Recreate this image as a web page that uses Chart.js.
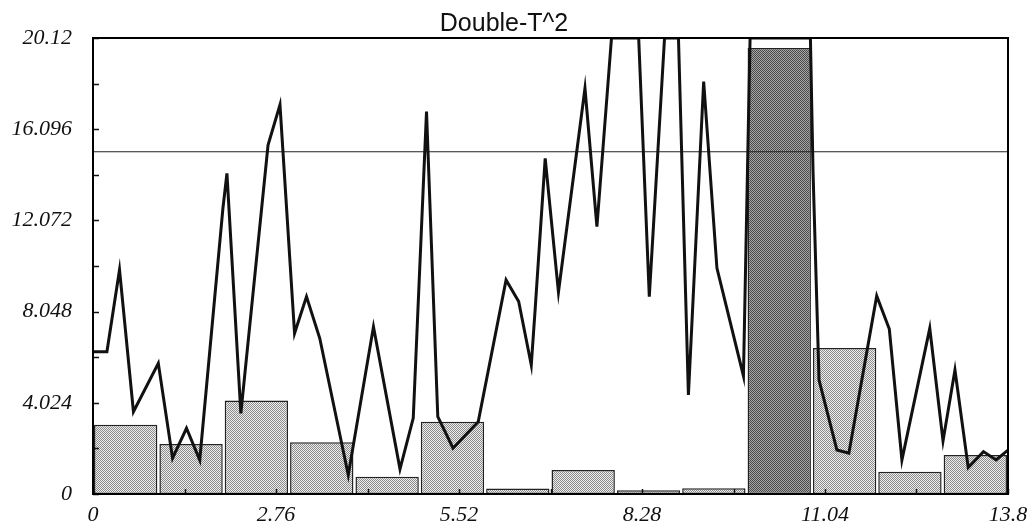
<!DOCTYPE html>
<html>
<head>
<meta charset="utf-8">
<script src="https://cdn.jsdelivr.net/npm/chart.js@4/dist/chart.umd.min.js"></script>
<style>
  html, body { margin: 0; padding: 0; background: #ffffff; }
  #wrap { width: 1029px; height: 527px; }
</style>
</head>
<body>
<div id="wrap"><canvas id="c" width="1029" height="527"></canvas></div>
<script>
// ---- data ----
const chartTitle = "Double-T^2";

const xTickValues = [0, 2.76, 5.52, 8.28, 11.04, 13.8];
const xTickLabels = ["0", "2.76", "5.52", "8.28", "11.04", "13.8"];
const yTickValues = [0, 4.024, 8.048, 12.072, 16.096, 20.12];
const yTickLabels = ["0", "4.024", "8.048", "12.072", "16.096", "20.12"];

// histogram bins (centres) and heights
const binCenters = [0.493, 1.479, 2.464, 3.45, 4.436, 5.421, 6.407, 7.393, 8.379, 9.364, 10.35, 11.336, 12.321, 13.307];
const binHeights = [3.05, 2.21, 4.12, 2.28, 0.76, 3.19, 0.24, 1.06, 0.17, 0.25, 19.68, 6.44, 0.98, 1.72];
const highlightedBin = 10;

// T^2 trace
const lineX = [0, 0.21, 0.40, 0.61, 0.985, 1.20, 1.41, 1.61, 1.96, 2.02,
  2.23, 2.64, 2.82, 3.04, 3.22, 3.42, 3.85, 4.23, 4.63, 4.83,
  5.03, 5.20, 5.43, 5.81, 6.23, 6.42, 6.61, 6.67, 6.82, 7.02,
  7.42, 7.60, 7.82, 8.23, 8.39, 8.62, 8.83, 8.98, 9.21, 9.26,
  9.41, 9.81, 9.91, 10.82, 10.86, 10.95, 11.22, 11.40, 11.82, 12.01,
  12.20, 12.62, 12.82, 13.00, 13.20, 13.43, 13.62, 13.80];
const lineY = [6.28, 6.28, 9.89, 3.63, 5.77, 1.58, 2.90, 1.50, 12.62, 14.15,
  3.56, 15.40, 17.17, 7.09, 8.71, 6.87, 0.84, 7.38, 1.10, 3.35,
  16.87, 3.41, 2.02, 3.19, 9.44, 8.49, 5.69, 8.21, 14.81, 8.91,
  17.90, 11.80, 20.12, 20.12, 8.71, 20.12, 20.12, 4.37, 18.20, 16.14,
  9.97, 5.21, 20.12, 20.12, 14.17, 5.03, 1.94, 1.80, 8.74, 7.28,
  1.50, 7.31, 2.34, 5.47, 1.17, 1.87, 1.50, 1.94];

// control limit
const limitValue = 15.1;

// ---- styling helpers ----
function ditherPattern(dark, light) {
  const c = document.createElement('canvas');
  c.width = 2; c.height = 2;
  const g = c.getContext('2d');
  g.fillStyle = light; g.fillRect(0, 0, 2, 2);
  g.fillStyle = dark; g.fillRect(0, 0, 1, 1); g.fillRect(1, 1, 1, 1);
  return g.createPattern(c, 'repeat');
}
const lightFill = ditherPattern('#8c8c8c', '#ededed');
const darkFill = ditherPattern('#4a4a4a', '#a6a6a6');

const barPoints = binCenters.map((x, i) => ({ x: x, y: binHeights[i] }));
const barFills = binCenters.map((x, i) => i === highlightedBin ? darkFill : lightFill);
const linePoints = lineX.map((x, i) => ({ x: x, y: lineY[i] }));
const limitPoints = [{ x: xTickValues[0], y: limitValue }, { x: xTickValues[xTickValues.length - 1], y: limitValue }];

const frameAndMinorTicks = {
  id: 'frameAndMinorTicks',
  afterDatasetsDraw(chart) {
    const { ctx, chartArea: a, scales } = chart;
    const xs = scales.x, ys = scales.y;
    ctx.save();
    ctx.strokeStyle = '#111';
    ctx.lineWidth = 1.5;
    ctx.beginPath();
    for (let i = 0; i < yTickValues.length; i++) {
      const vals = [yTickValues[i]];
      if (i < yTickValues.length - 1) vals.push((yTickValues[i] + yTickValues[i + 1]) / 2);
      vals.forEach(v => {
        const py = Math.round(ys.getPixelForValue(v)) + 0.5;
        ctx.moveTo(a.left, py); ctx.lineTo(a.left + 6, py);
      });
    }
    for (let i = 0; i < xTickValues.length; i++) {
      const vals = [xTickValues[i]];
      if (i < xTickValues.length - 1) vals.push((xTickValues[i] + xTickValues[i + 1]) / 2);
      vals.forEach(v => {
        const px = Math.round(xs.getPixelForValue(v)) + 0.5;
        ctx.moveTo(px, a.bottom); ctx.lineTo(px, a.bottom - 5);
      });
    }
    ctx.stroke();
    ctx.lineWidth = 2;
    ctx.strokeStyle = '#000';
    ctx.strokeRect(a.left, a.top, a.right - a.left, a.bottom - a.top);
    ctx.restore();
  }
};

new Chart(document.getElementById('c'), {
  type: 'bar',
  data: {
    datasets: [
      {
        type: 'line',
        data: linePoints,
        borderColor: '#111111',
        borderWidth: 3,
        pointRadius: 0,
        tension: 0,
        fill: false,
        order: 0
      },
      {
        type: 'line',
        data: limitPoints,
        borderColor: '#222222',
        borderWidth: 1.2,
        pointRadius: 0,
        fill: false,
        order: 1
      },
      {
        type: 'bar',
        data: barPoints,
        backgroundColor: barFills,
        borderColor: '#222222',
        borderWidth: 1.5,
        borderSkipped: false,
        categoryPercentage: 1.0,
        barPercentage: 0.97,
        order: 2
      }
    ]
  },
  options: {
    responsive: false,
    animation: false,
    layout: { padding: { left: 0, right: 21, top: 0, bottom: 0 } },
    plugins: {
      legend: { display: false },
      tooltip: { enabled: false },
      title: {
        display: true,
        text: chartTitle,
        color: '#111',
        font: { family: '"Liberation Sans Narrow", "Liberation Sans", Arial, sans-serif', size: 25, weight: 'normal', lineHeight: 1 },
        padding: { top: 12, bottom: 1 }
      }
    },
    scales: {
      x: {
        type: 'linear',
        min: xTickValues[0],
        max: xTickValues[xTickValues.length - 1],
        offset: false,
        grid: { display: false, drawTicks: false },
        border: { display: true, color: '#000', width: 2 },
        afterBuildTicks: s => { s.ticks = xTickValues.map(v => ({ value: v })); },
        afterFit: s => { s.height = 33; s.paddingLeft = 0; s.paddingRight = 0; },
        ticks: {
          autoSkip: false,
          maxRotation: 0,
          padding: 8,
          color: '#111',
          font: { family: '"Liberation Serif", "Times New Roman", serif', size: 22, style: 'italic' },
          callback: (v, i) => xTickLabels[i]
        }
      },
      y: {
        type: 'linear',
        min: yTickValues[0],
        max: yTickValues[yTickValues.length - 1],
        grid: { display: false, drawTicks: false },
        border: { display: true, color: '#000', width: 2 },
        afterBuildTicks: s => { s.ticks = yTickValues.map(v => ({ value: v })); },
        afterFit: s => { s.width = 93; s.paddingTop = 0; s.paddingBottom = 0; },
        ticks: {
          autoSkip: false,
          padding: 21,
          color: '#111',
          font: { family: '"Liberation Serif", "Times New Roman", serif', size: 22, style: 'italic' },
          callback: (v, i) => yTickLabels[i]
        }
      }
    }
  },
  plugins: [frameAndMinorTicks]
});
</script>
</body>
</html>
